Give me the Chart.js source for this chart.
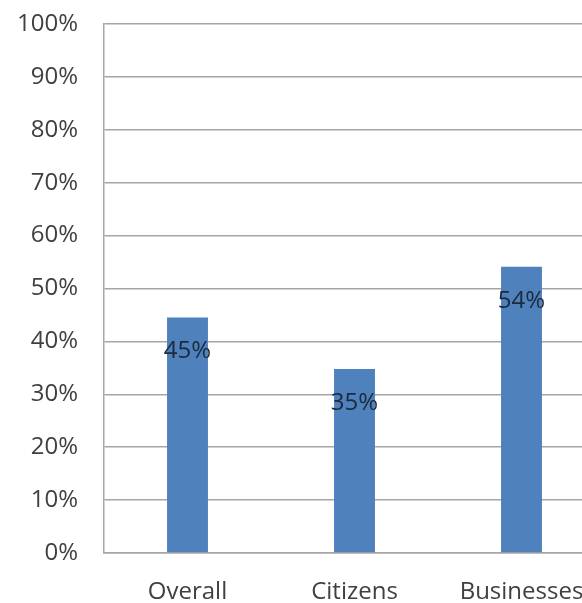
<!DOCTYPE html>
<html>
<head>
<meta charset="utf-8">
<script src="https://cdn.jsdelivr.net/npm/chart.js@4"></script>
<style>
  html, body { margin: 0; padding: 0; background: #fff; overflow: hidden; }
  #wrap { width: 605px; height: 603px; }
</style>
</head>
<body>
<div id="wrap"><canvas id="bar-chart"></canvas></div>
<script>
// chart data
var categories = ['Overall', 'Citizens', 'Businesses'];
var shares = [44.5, 34.8, 54.1];

// draws the % labels just under the top of each bar
var barLabels = {
    id: 'barLabels',
    afterDatasetsDraw: function(chart)
    {
        var ctx = chart.ctx;
        var meta = chart.getDatasetMeta(0);
        ctx.save();
        ctx.font = '24px "Open Sans"';
        ctx.fillStyle = '#1c2a3b';
        ctx.textAlign = 'center';
        ctx.textBaseline = 'middle';
        meta.data.forEach(function(bar, i)
        {
            ctx.fillText(Math.round(shares[i]) + '%', bar.x, bar.y + 34);
        });
        ctx.restore();
    }
};

var ctx = document.getElementById('bar-chart').getContext('2d');
var chart = new Chart(ctx,
{
    type: 'bar',
    data: {
        labels: categories,
        datasets: [{
            data: shares,
            backgroundColor: '#4f81bd',
            categoryPercentage: 1,
            barPercentage: 0.245
        }]
    },
    options: {
        responsive: true,
        maintainAspectRatio: false,
        animation: false,
        layout: { padding: { top: 24, right: 0, bottom: 0, left: 0 } },
        plugins: {
            legend: { display: false },
            tooltip: { enabled: false }
        },
        scales: {
            x: {
                grid: { display: false },
                border: { display: true, color: '#a6a6a6', width: 1.5 },
                ticks: {
                    color: '#404040',
                    font: { family: 'Open Sans', size: 24 },
                    padding: 17,
                    maxRotation: 0,
                    autoSkip: false
                },
                afterFit: function(scale)
                {
                    scale.height = 50;
                    scale.paddingLeft = 0;
                    scale.paddingRight = 0;
                }
            },
            y: {
                min: 0,
                max: 100,
                grid: { color: '#a6a6a6', lineWidth: 1.5, drawTicks: false },
                border: { display: true, color: '#a6a6a6', width: 1.5 },
                ticks: {
                    stepSize: 10,
                    color: '#404040',
                    font: { family: 'Open Sans', size: 24 },
                    padding: 26,
                    callback: function(v) { return v + '%'; }
                },
                afterFit: function(scale)
                {
                    scale.width = 104;
                    scale.paddingTop = 0;
                    scale.paddingBottom = 0;
                }
            }
        }
    },
    plugins: [barLabels]
});
</script>
</body>
</html>
